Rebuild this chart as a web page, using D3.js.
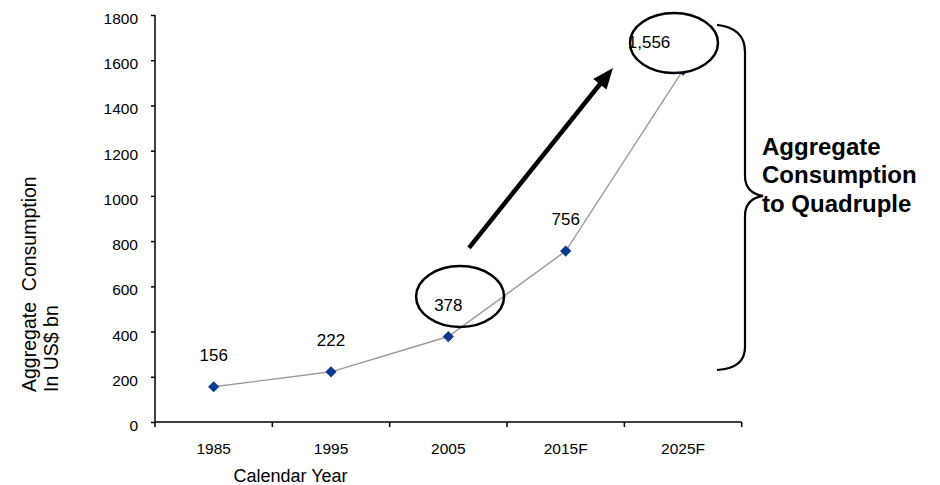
<!DOCTYPE html>
<html>
<head>
<meta charset="utf-8">
<script src="https://cdn.jsdelivr.net/npm/d3@7"></script>
<style>
  html, body { margin: 0; padding: 0; background: #fff; }
  svg { display: block; font-family: Arial, "Liberation Sans", Helvetica, sans-serif; }
  text { white-space: pre; }
</style>
</head>
<body>
<svg id="chart" width="940" height="485"></svg>
<script>
// Aggregate consumption, US$ bn, by calendar year (F = forecast)
const years = ["1985", "1995", "2005", "2015F", "2025F"];
const consumption = [156, 222, 378, 756, 1556];
const valueLabels = ["156", "222", "378", "756", "1,556"];
const yTicks = [0, 200, 400, 600, 800, 1000, 1200, 1400, 1600, 1800];
const yTitleLines = ["Aggregate  Consumption", "In US$ bn"];
const xTitle = "Calendar Year";
const calloutLines = ["Aggregate", "Consumption", "to Quadruple"];

const svg = d3.select("#chart");
const plotLeft = 155, plotRight = 741.7, plotTop = 15, plotBottom = 422;

const x = d3.scaleBand().domain(years).range([plotLeft, plotRight]).padding(0);
const y = d3.scaleLinear().domain([0, 1800]).range([plotBottom, plotTop]);
const bw = x.bandwidth();
// continuous position along the category axis (index -> band centre)
const xi = i => plotLeft + bw * (i + 0.5);

// Y axis
const yAxis = svg.append("g")
  .attr("transform", `translate(${plotLeft},0)`)
  .call(d3.axisLeft(y).tickValues(yTicks).tickSize(4).tickPadding(13).tickFormat(d3.format("d")));
yAxis.select(".domain").attr("stroke", "#000").attr("stroke-width", 1.5)
  .attr("d", `M0,${plotTop}V${plotBottom}`);
yAxis.selectAll(".tick line").attr("stroke", "#000").attr("stroke-width", 1.5);
yAxis.selectAll(".tick text").attr("font-size", 15.5).attr("fill", "#000")
  .attr("font-family", "Arial, 'Liberation Sans', sans-serif").attr("dy", "0.55em");

// X axis: labels at band centres, ticks at band edges
const xAxis = svg.append("g")
  .attr("transform", `translate(0,${plotBottom})`)
  .call(d3.axisBottom(x).tickSize(0).tickPadding(21));
xAxis.select(".domain").attr("stroke", "#000").attr("stroke-width", 1.5)
  .attr("d", `M${plotLeft},0H${plotRight}`);
xAxis.selectAll(".tick text").attr("font-size", 15.5).attr("fill", "#000")
  .attr("font-family", "Arial, 'Liberation Sans', sans-serif");
const edges = years.map(d => x(d)).concat([x(years[years.length - 1]) + bw]);
xAxis.selectAll("line.edge").data(edges).join("line")
  .attr("class", "edge")
  .attr("x1", d => d).attr("x2", d => d)
  .attr("y1", 0).attr("y2", 5)
  .attr("stroke", "#000").attr("stroke-width", 1.5);

// Axis titles
const yTitle = svg.append("text")
  .attr("transform", "rotate(-90)")
  .attr("font-size", 19.5).attr("fill", "#000");
yTitle.selectAll("tspan").data(yTitleLines).join("tspan")
  .attr("x", -392).attr("y", (d, i) => 36 + i * 22)
  .text(d => d);

svg.append("text")
  .attr("x", 290.5).attr("y", 482)
  .attr("text-anchor", "middle")
  .attr("font-size", 18).attr("fill", "#000")
  .text(xTitle);

// Series line and markers
const pts = years.map((yr, i) => ({ yr, v: consumption[i], label: valueLabels[i] }));
svg.append("path")
  .datum(pts)
  .attr("fill", "none")
  .attr("stroke", "#9a9a9a")
  .attr("stroke-width", 1.4)
  .attr("d", d3.line().x(d => x(d.yr) + bw / 2).y(d => y(d.v)));

svg.selectAll("path.marker").data(pts).join("path")
  .attr("class", "marker")
  .attr("d", d3.symbol(d3.symbolDiamond2, 80))
  .attr("transform", d => `translate(${x(d.yr) + bw / 2},${y(d.v)})`)
  .attr("fill", "#0b3a8c");

// Ring around the 2005 label
svg.append("ellipse")
  .attr("cx", xi(2.10)).attr("cy", y(555))
  .attr("rx", 44).attr("ry", 30.5)
  .attr("fill", "none").attr("stroke", "#000").attr("stroke-width", 2.5);

// White-filled ring around the 2025F value (covers its marker)
const ring2 = { cx: xi(3.923), cy: y(1676) };
svg.append("ellipse")
  .attr("cx", ring2.cx).attr("cy", ring2.cy)
  .attr("rx", 44).attr("ry", 30)
  .attr("fill", "#fff").attr("stroke", "none");

// Value labels
const labelShift = { "2025F": { dx: -34, dy: 4 } };
svg.selectAll("text.val").data(pts).join("text")
  .attr("class", "val")
  .attr("x", d => x(d.yr) + bw / 2 + (labelShift[d.yr] ? labelShift[d.yr].dx : 0))
  .attr("y", d => y(d.v) - 26 + (labelShift[d.yr] ? labelShift[d.yr].dy : 0))
  .attr("text-anchor", "middle")
  .attr("font-size", 17).attr("fill", "#000")
  .text(d => d.label);

svg.append("ellipse")
  .attr("cx", ring2.cx).attr("cy", ring2.cy)
  .attr("rx", 44).attr("ry", 30)
  .attr("fill", "none").attr("stroke", "#000").attr("stroke-width", 2.5);

// Growth arrow
const a0 = [xi(2.176), y(770)], a1 = [xi(3.403), y(1566)];
const dxA = a1[0] - a0[0], dyA = a1[1] - a0[1];
const len = Math.hypot(dxA, dyA), ux = dxA / len, uy = dyA / len;
const headL = 21, headW = 8.5;
const base = [a1[0] - ux * headL, a1[1] - uy * headL];
svg.append("line")
  .attr("x1", a0[0]).attr("y1", a0[1])
  .attr("x2", base[0] + ux * 2).attr("y2", base[1] + uy * 2)
  .attr("stroke", "#000").attr("stroke-width", 4.5);
svg.append("path")
  .attr("d", `M${a1[0]},${a1[1]}L${base[0] - uy * headW},${base[1] + ux * headW}L${base[0] + uy * headW},${base[1] - ux * headW}Z`)
  .attr("fill", "#000");

// Right-hand curly brace
const bx0 = 717, bx1 = 745, bx2 = 763;
const bTop = y(1756), bBot = y(230), bMid = y(1000);
const brace = `M${bx0},${bTop} C${bx0 + 18},${bTop + 2} ${bx1},${bTop + 10} ${bx1},${bTop + 27}`
  + ` L${bx1},${bMid - 20} C${bx1},${bMid - 8} ${bx1 + 7},${bMid - 2} ${bx2},${bMid}`
  + ` C${bx1 + 7},${bMid + 2} ${bx1},${bMid + 8} ${bx1},${bMid + 20}`
  + ` L${bx1},${bBot - 23} C${bx1},${bBot - 8} ${bx0 + 18},${bBot - 1} ${bx0},${bBot}`;
svg.append("path")
  .attr("d", brace)
  .attr("fill", "none").attr("stroke", "#000").attr("stroke-width", 2.2);

// Callout text
const callout = svg.append("text")
  .attr("font-size", 24).attr("font-weight", "bold").attr("fill", "#000");
callout.selectAll("tspan").data(calloutLines).join("tspan")
  .attr("x", 762).attr("y", (d, i) => 155 + i * 28.4)
  .text(d => d);
</script>
</body>
</html>
